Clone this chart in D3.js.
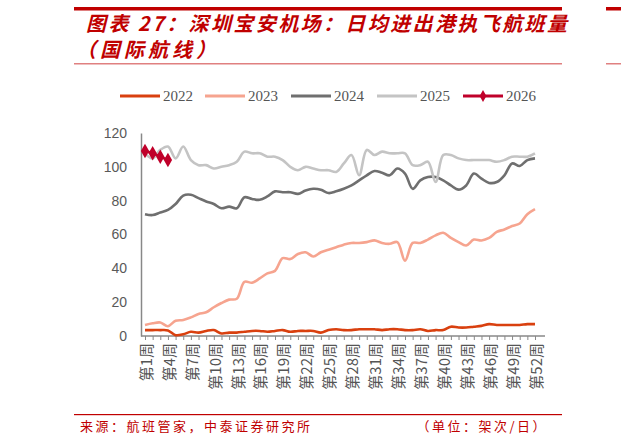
<!DOCTYPE html>
<html><head><meta charset="utf-8">
<script src="https://cdn.jsdelivr.net/npm/d3@7"></script>
<style>body{margin:0;background:#fff}</style></head>
<body><svg id="c" width="621" height="441"></svg>
<script>
const weeks = d3.range(1,53).map(i=>"第"+i+"周");
const tickWeeks = d3.range(1,53,3).map(i=>"第"+i+"周");
const s2022 = [3.5,3.5,3.5,3.3,0.5,1,2.5,2,3,3.5,1.5,2,2,2.5,3,3,2.5,3,3.5,2.5,3,3,3,2,3.5,4,3.5,3.5,4,4,4,3.5,4,4,3.5,3.5,4,3,3.5,3.5,5.5,5,5,5.5,6,7,6.5,6.5,6.5,6.5,7,7];
const s2023 = [6.5,7.5,8,5.8,9,9.5,11,13,14,17,19.5,21.5,22,32,31.5,34,37,38.5,46,45.5,48.5,49.5,47,49.5,51,52.5,54,55,55,55.5,56.5,55,54.5,55.5,44.5,55,55,57,59.5,61,58,55.5,53.5,57,56.5,58,61.5,63,65,66.5,72,75];
const s2024 = [72,71.5,73,74.5,78,83,83.5,81.5,79.5,78,75.5,76.5,75.5,82,81,80.5,82.5,85.5,85,85,84,86,87,86.5,84.5,85.5,87,89,92,95,97.5,96.5,95,99,96,87,92,94,94,92,89,86.5,89,96,93,90.5,91,95,102,100.5,104,105];
const s2025 = [108,105,110,112,105,112,104,101,101,99,100,101,103,109,108,108,106,106,104,100,98,100,99,98,98,97,102,107,95,110,107,109,108,108,108,101,101,103,91,107,107,105,104,104,104,104,103,104,106,106,106,108];
const s2026 = [109.4,108,106,104];
const yTicks = [0,20,40,60,80,100,120];
const names = ["2022","2023","2024","2025","2026"];
const colors = ["#d9400f","#f6a48f","#6f6f6f","#c4c4c4","#c0002a"];
const svg = d3.select("#c");
const red = "#c00000";
svg.append("rect").attr("x",74).attr("y",7).attr("width",488).attr("height",3.5).attr("fill",red);
svg.append("rect").attr("x",74).attr("y",63).attr("width",488).attr("height",1.5).attr("fill","#e08080");
svg.append("rect").attr("x",606).attr("y",7).attr("width",15).attr("height",3.5).attr("fill",red);
svg.append("rect").attr("x",606).attr("y",63).attr("width",15).attr("height",1.5).attr("fill","#e08080");
svg.append("text").attr("x",86).attr("y",31).attr("fill",red).attr("font-size",20).attr("font-style","italic").attr("font-weight","bold")
  .attr("letter-spacing",2.4).attr("font-family","Noto Sans CJK SC").text("图表 27：深圳宝安机场：日均进出港执飞航班量");
svg.append("text").attr("x",76).attr("y",57).attr("fill",red).attr("font-size",20).attr("font-style","italic").attr("font-weight","bold")
  .attr("letter-spacing",4).attr("font-family","Noto Sans CJK SC").text("（国际航线）");
svg.append("rect").attr("x",74).attr("y",414).attr("width",488).attr("height",1.2).attr("fill",red);
svg.append("text").attr("x",80).attr("y",431).attr("fill",red).attr("font-size",13).attr("letter-spacing",2.5).attr("font-family","Noto Sans CJK SC").text("来源：航班管家，中泰证券研究所");
svg.append("text").attr("x",548).attr("y",431).attr("text-anchor","end").attr("fill",red).attr("font-size",13).attr("letter-spacing",2.5).attr("font-family","Noto Sans CJK SC").text("（单位：架次/日）");
const x = d3.scalePoint().domain(weeks).range([145,535]);
const y = d3.scaleLinear().domain([0,120]).range([336,133]);
const ax = svg.append("g").attr("transform","translate(0,336)")
  .call(d3.axisBottom(x).tickSize(4).tickFormat(d=>tickWeeks.includes(d)?d:""));
ax.select(".domain").attr("d","M141,0H545").attr("stroke","#888").attr("stroke-width",1.5);
ax.selectAll("line").attr("stroke","#888");
ax.selectAll("text").attr("transform","rotate(-90)").attr("text-anchor","end").attr("x",-7).attr("y",1).attr("dy","0.35em")
  .attr("fill","#555").attr("font-size",15).attr("font-family","Noto Sans CJK SC");
const ay = svg.append("g").attr("transform","translate(141,0)").call(d3.axisLeft(y).tickValues(yTicks).tickSize(0).tickPadding(14));
ay.select(".domain").attr("stroke","#888").attr("stroke-width",1.5);
ay.selectAll("text").attr("fill","#595959").attr("font-size",14).attr("font-family","Liberation Sans");
const line = d3.line().x((d,i)=>x(weeks[i])).y(d=>y(d)).curve(d3.curveCatmullRom);
[s2022,s2023,s2024,s2025,s2026].forEach((s,k)=>{
  svg.append("path").attr("d",line(s)).attr("fill","none").attr("stroke",colors[k]).attr("stroke-width",2.6);
});
svg.selectAll(".mk").data(s2026).join("path").attr("d",d3.symbol(d3.symbolDiamond,60))
  .attr("transform",(d,i)=>`translate(${x(weeks[i])},${y(d)})`).attr("fill",colors[4]);
const lx = [120,205,291,377,463];
names.forEach((n,k)=>{
  svg.append("line").attr("x1",lx[k]).attr("x2",lx[k]+40).attr("y1",96).attr("y2",96).attr("stroke",colors[k]).attr("stroke-width",3);
  if(k==4) svg.append("path").attr("d",d3.symbol(d3.symbolDiamond,40)).attr("transform",`translate(${lx[k]+20},96)`).attr("fill",colors[4]);
  svg.append("text").attr("x",lx[k]+43).attr("y",101).attr("font-size",15).attr("fill","#555").attr("font-family","Liberation Serif").text(n);
});
</script></body></html>
